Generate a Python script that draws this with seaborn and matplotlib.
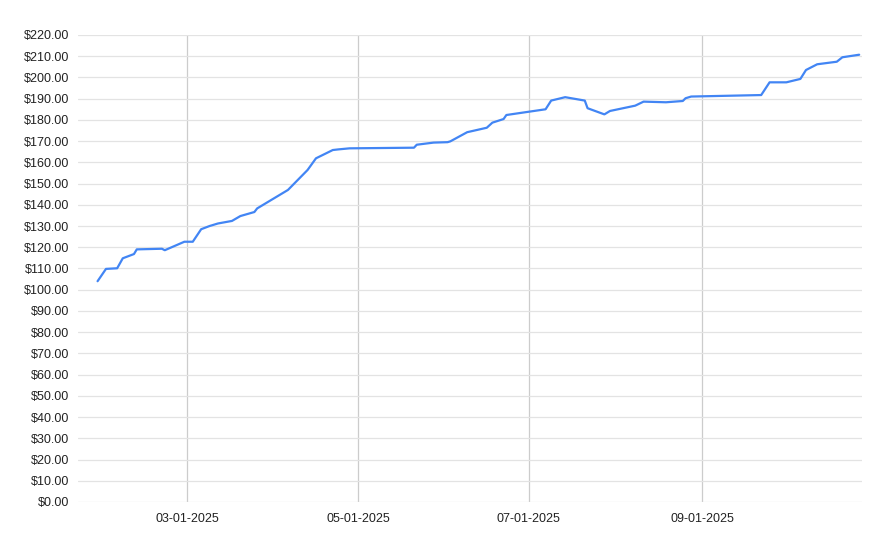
import pandas as pd
import matplotlib
matplotlib.use("Agg")
import matplotlib.pyplot as plt
import matplotlib.dates as mdates
import matplotlib.ticker as mticker
import seaborn as sns

# values
dates = ["2025-01-28", "2025-01-31", "2025-02-04", "2025-02-06", "2025-02-10",
         "2025-02-11", "2025-02-20", "2025-02-21", "2025-02-28", "2025-03-03",
         "2025-03-06", "2025-03-09", "2025-03-12", "2025-03-17", "2025-03-20",
         "2025-03-25", "2025-03-26", "2025-04-06", "2025-04-13", "2025-04-16",
         "2025-04-22", "2025-04-24", "2025-04-28", "2025-05-21", "2025-05-22",
         "2025-05-28", "2025-06-02", "2025-06-03", "2025-06-09", "2025-06-16",
         "2025-06-18", "2025-06-22", "2025-06-23", "2025-07-07", "2025-07-09",
         "2025-07-14", "2025-07-21", "2025-07-22", "2025-07-28", "2025-07-30",
         "2025-08-08", "2025-08-11", "2025-08-19", "2025-08-25", "2025-08-26",
         "2025-08-28", "2025-09-22", "2025-09-25", "2025-10-01", "2025-10-06",
         "2025-10-08", "2025-10-12", "2025-10-19", "2025-10-21", "2025-10-27"]
prices = [104.0, 109.8, 110.1, 114.8, 116.8,
          119.0, 119.3, 118.6, 122.6, 122.6,
          128.5, 130.0, 131.2, 132.4, 134.7,
          136.6, 138.3, 147.0, 156.4, 161.9,
          165.8, 166.1, 166.6, 166.9, 168.3,
          169.3, 169.5, 169.9, 174.2, 176.3,
          178.7, 180.4, 182.3, 185.0, 189.1,
          190.7, 189.1, 185.5, 182.6, 184.2,
          186.7, 188.6, 188.3, 188.9, 190.2,
          191.0, 191.7, 197.7, 197.7, 199.3,
          203.5, 206.2, 207.4, 209.5, 210.7]
tick_dates = ["2025-03-01", "2025-05-01", "2025-07-01", "2025-09-01"]

df = pd.DataFrame({"date": pd.to_datetime(dates), "price": prices})

sns.set_style("white")
plt.rcParams["font.family"] = ["Liberation Sans", "DejaVu Sans"]

fig = plt.figure(figsize=(8.88, 5.5), dpi=100)
ax = fig.add_axes([0.0878, 0.0873, 0.8829, 0.8491])

sns.lineplot(data=df, x="date", y="price", ax=ax, color="#4285F4", linewidth=1.6)

ax.set_xlim(pd.Timestamp("2025-01-21"), pd.Timestamp("2025-10-28"))
ax.set_ylim(0, 220)
ax.set_xticks(pd.to_datetime(tick_dates))
ax.xaxis.set_major_formatter(mdates.DateFormatter("%m-%d-%Y"))
ax.yaxis.set_major_locator(mticker.MultipleLocator(10))
ax.yaxis.set_major_formatter(mticker.FuncFormatter(lambda v, p: f"${v:.2f}"))

ax.set_xlabel("")
ax.set_ylabel("")
for s in ax.spines.values():
    s.set_visible(False)

ax.grid(axis="y", color="#e3e3e3", linewidth=0.9)
ax.grid(axis="x", color="#cccccc", linewidth=0.9)
ax.set_axisbelow(True)
ax.tick_params(axis="both", length=0, labelsize=9, colors="#222222")
ax.tick_params(axis="y", pad=6)
ax.tick_params(axis="x", pad=8)

fig.canvas.draw()
ax.yaxis.get_gridlines()[0].set_visible(False)

fig.savefig("out.png", dpi=100)
